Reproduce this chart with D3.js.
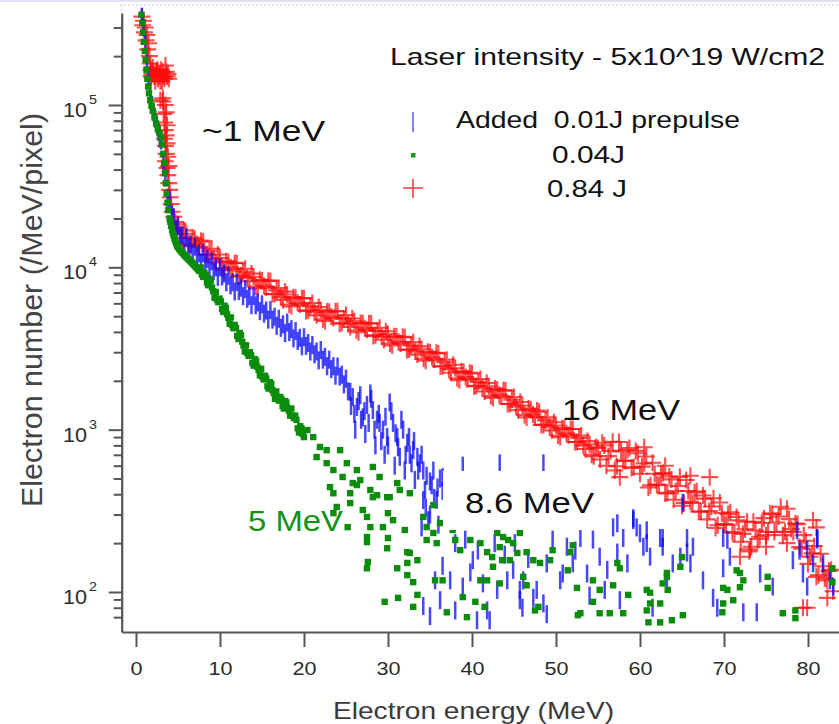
<!DOCTYPE html>
<html>
<head>
<meta charset="utf-8">
<script src="https://cdn.jsdelivr.net/npm/d3@7"></script>
<style>
  html, body { margin: 0; padding: 0; background: #fff; }
  svg { display: block; }
  text { font-family: "Liberation Sans", Arial, Helvetica, sans-serif; }
</style>
</head>
<body>
<svg id="chart" width="839" height="724"></svg>
<script>
// ---- axis ticks and labels ----
const xTicks = [0, 10, 20, 30, 40, 50, 60, 70, 80];
const yMajor = [100, 1000, 10000, 100000];
const yExponents = ["2", "3", "4", "5"];
const xTitle = "Electron energy (MeV)";
const yTitle = "Electron number (/MeV/pixel)";
const legendTitle = "Laser intensity - 5x10^19 W/cm2";
const seriesNames = ["Added  0.01J prepulse", "0.04J", "0.84 J"];
const energyNotes = ["~1 MeV", "16 MeV", "8.6 MeV", "5 MeV"];

// ---- spectra: [energy (MeV), electrons per MeV per pixel] ----
// 0.84 J
const red = [
  [0.7,350000],[0.8,310000],[0.9,330000],[1.0,280000],[1.1,300000],[1.2,250000],[1.3,270000],[1.4,220000],
  [1.5,240000],[1.6,200000],[1.7,180000],[1.8,165000],[1.9,155000],[2.0,170000],[2.2,150000],[2.4,160000],
  [2.6,145000],[2.8,155000],[3.0,165000],[3.1,140000],[3.3,150000],[3.5,175000],[3.7,150000],[2.9,107000],
  [1.8,150000],[2.1,160000],[2.3,140000],[2.5,165000],[2.7,150000],[2.9,140000],[3.2,160000],[3.4,145000],
  [3.6,160000],[3.8,155000],[3.9,145000],[3.2,105000],
  [3.2,110000],[3.5,100000],[3.3,88000],[3.4,78000],[3.5,70000],[3.4,62000],[3.5,56000],[3.6,50000],
  [3.6,90000],[3.7,75000],[3.6,65000],[3.7,58000],[3.8,48000],[3.9,42000],
  [3.5,45000],[3.7,41000],[3.8,37000],[3.9,33000],[4.0,30000],[4.1,27000],[4.2,24500],[4.3,22000],
  [4.5,20500],[4.7,19000],[4.8,17500],
  [5.0,18400],[5.5,15200],[6.0,16100],[6.5,13500],[7.0,15000],[7.5,13400],[8.0,14400],[8.5,12000],
  [9.0,13000],[9.5,10700],[10.0,11400],[10.5,9600],[11.0,10800],[11.5,9750],[12.0,10600],[12.5,8900],
  [13.0,9800],[13.5,8200],[14.0,8750],[14.5,7400],[15.0,8300],[15.5,7550],[16.0,8250],[16.5,6850],
  [17.0,7450],[17.5,6300],[18.0,6800],[18.5,5750],[19.0,6500],[19.5,5900],[20.0,6450],[20.5,5430],
  [21.0,6030],[21.5,5060],[22.0,5460],[22.5,4670],[23.0,5330],[23.5,4870],[24.0,5360],[24.5,4540],
  [25.0,5080],[25.5,4290],[26.0,4670],[26.5,3980],[27.0,4530],[27.5,4120],[28.0,4510],[28.5,3810],
  [29.0,4240],[29.5,3580],[30.0,3880],[30.5,3300],[31.0,3750],[31.5,3400],[32.0,3710],[32.5,3120],
  [33.0,3460],[33.5,2900],[34.0,3130],[34.5,2660],[35.0,3000],[35.5,2710],[36.0,2950],[36.5,2460],
  [37.0,2700],[37.5,2240],[38.0,2390],[38.5,2020],[39.0,2270],[39.5,2050],[40.0,2220],[40.5,1860],
  [41.0,2050],[41.5,1720],[42.0,1850],[42.5,1570],[43.0,1770],[43.5,1600],[44.0,1740],[44.5,1440],
  [45.0,1590],[45.5,1320],[46.0,1410],[46.5,1190],[47.0,1330],[47.5,1200],[48.0,1290],[48.5,1070],
  [49.0,1190],[49.5,990],[50.0,1060],[50.5,900],[51.0,1020],[51.5,925],[52.0,1010],[52.5,840],
  [53.0,920],[53.5,760],[54.0,810],[54.5,685],[55.0,770],
  [5.25,16000],[5.75,16900],[6.25,13900],[6.75,15200],[7.25,13900],[7.75,14600],[8.25,11950],[8.75,12550],
  [9.25,11300],[9.75,12000],[10.25,9900],[10.75,10900],[11.25,10000],[11.75,10650],[12.25,8800],[12.75,9400],
  [13.25,8600],[13.75,9150],[14.25,7600],[14.75,8370],[15.25,7700],[15.75,8280],[16.25,6840],[16.75,7200],
  [17.25,6550],[17.75,7080],[18.25,5900],[18.75,6550],[19.25,6040],[19.75,6460],[20.25,5380],[20.75,5760],
  [21.25,5290],[21.75,5690],[22.25,4780],[22.75,5350],[23.25,4980],[23.75,5360],[24.25,4490],[24.75,4830],
  [25.25,4470],[25.75,4840],[26.25,4080],[26.75,4540],[27.25,4220],[27.75,4520],[28.25,3780],[28.75,4050],
  [29.25,3730],[29.75,4040],[30.25,3390],[30.75,3760],[31.25,3480],[31.75,3730],[32.25,3100],[32.75,3300],
  [33.25,3030],[33.75,3260],[34.25,2730],[34.75,3020],[35.25,2790],[35.75,2980],[36.25,2450],[36.75,2600],
  [37.25,2360],[37.75,2510],[38.25,2070],[38.75,2290],[39.25,2110],[39.75,2240],[40.25,1850],[40.75,1970],
  [41.25,1800],[41.75,1940],[42.25,1610],[42.75,1790],[43.25,1640],[43.75,1750],[44.25,1440],[44.75,1530],
  [45.25,1390],[45.75,1480],[46.25,1230],[46.75,1350],[47.25,1240],[47.75,1310],[48.25,1070],[48.75,1140],
  [49.25,1040],[49.75,1110],[50.25,920],[50.75,1020],[51.25,950],[51.75,1010],[52.25,840],[52.75,890],
  [53.25,800],[53.75,850],[54.25,700],[54.75,780],
  [55.5,830],[56.0,600],[56.5,740],[57.0,560],[57.5,840],[58.0,645],[58.5,750],[59.0,580],
  [59.5,740],[60.0,535],[60.5,620],[61.0,440],[61.5,625],[62.0,460],[62.5,530],[63.0,405],
  [63.5,515],[64.0,370],[64.5,450],[65.0,340],[65.5,490],[66.0,360],[66.5,410],[67.0,312],
  [67.5,393],[68.0,280],[68.5,336],[69.0,248],[69.5,356],[70.0,262],[70.5,302],[71.0,233],
  [71.5,290],[72.0,204],[72.5,243],[73.0,178],[73.5,271],[74.0,212],[74.5,266],[75.0,224],
  [75.5,305],[76.0,234],[76.5,292],[77.0,224],[77.5,326],[78.0,244],[78.5,264],[79.0,189],
  [79.5,224],[80.0,149],[80.5,173],[81.0,124],[81.5,172],[82.0,121],[82.5,135],[83.0,101],
  [55.25,655],[55.75,800],[56.25,687],[56.75,843],[57.25,595],[57.75,735],[58.25,642],[58.75,770],
  [59.25,587],[59.75,715],[60.25,592],[60.75,683],[61.25,454],[61.75,535],[62.25,456],[62.75,540],
  [63.25,408],[63.75,494],[64.25,419],[64.75,512],[65.25,354],[65.75,419],[66.25,354],[66.75,417],
  [67.25,313],[67.75,376],[68.25,315],[68.75,378],[69.25,258],[69.75,306],[70.25,260],[70.75,310],
  [71.25,232],[71.75,276],[72.25,228],[72.75,271],[73.25,190],[73.75,239],[74.25,219],[74.75,285],
  [75.25,234],[75.75,302],[76.25,268],[76.75,335],[77.25,235],[77.75,281],[78.25,234],[78.75,262],
  [79.25,185],[79.75,207],[80.25,165],[80.75,192],[81.25,127],[81.75,144],[82.25,118],[82.75,137],
  [57.6,510],[68.3,510],[80.6,277],[79.9,80],[82.3,92],[79.4,80],[71.9,165],[73.1,183],
  [60.5,780],[66.0,520],[63.0,600],[77.5,200],[81.0,250],[75.0,190]
];

// added 0.01 J prepulse
const blue = [
  [0.7,350000],[0.9,300000],[1.1,240000],[1.3,190000],[1.5,150000],[1.7,120000],[1.9,100000],[2.1,90000],
  [2.3,82000],[2.5,75000],[2.7,68000],[2.85,62000],
  [3.0,60400],[3.25,42800],[3.5,35700],[3.75,26700],[4.0,26100],[4.25,21100],[4.5,20300],[4.75,17100],
  [5.0,18000],[5.25,15500],[5.5,15800],[5.75,13600],[6.0,15300],[6.25,13300],[6.5,13900],[6.75,12150],
  [7.0,13400],[7.25,11700],[7.5,12200],[7.75,10700],[8.0,12200],[8.25,10700],[8.5,11250],[8.75,9900],
  [9.0,10900],[9.25,9450],[9.5,10000],[9.75,8740],[10.0,10000],[10.25,8780],[10.5,9180],[10.75,8080],
  [11.0,8870],[11.25,7740],[11.5,8080],[11.75,7100],[12.0,8130],[12.25,7140],[12.5,7490],[12.75,6640],
  [13.0,7340],[13.25,6390],[13.5,6660],[13.75,5840],[14.0,6660],[14.25,5830],[14.5,6080],[14.75,5370],
  [15.0,5910],[15.25,5180],[15.5,5420],[15.75,4760],[16.0,5450],[16.25,4760],[16.5,4960],[16.75,4360],
  [17.0,4820],[17.25,4240],[17.5,4460],[17.75,3930],[18.0,4570],[18.25,3990],[18.5,4160],[18.75,3650],
  [19.0,4050],[19.25,3520],[19.5,3680],[19.75,3260],[20.0,3710],[20.25,3280],[20.5,3420],[20.75,3030],
  [21.0,3320],[21.25,2910],[21.5,3030],[21.75,2670],[22.0,3090],[22.25,2700],[22.5,2810],[22.75,2460],
  [23.0,2700],[23.25,2360],[23.5,2460],[23.75,2150],[24.0,2450],[24.25,2120],[24.5,2180],[24.75,1900],
  [25.0,2060],[25.25,1720],[25.5,1710],
  [25.8,1590],[26.3,1380],[26.7,1630],[27.0,1190],[27.5,1420],[27.9,1670],[28.2,1320],[28.7,1150],
  [29.0,1100],[29.4,1000],[29.9,900],[30.2,1470],[30.6,1100],[31.1,900],[31.4,680],[31.8,1000],
  [32.3,830],[32.6,700],[33.0,750],[33.5,680],[33.8,620],[34.2,560],[26.1,1000],[27.3,940],
  [28.5,800],[29.6,700],[30.8,600],[32.0,560],[33.2,490],[34.4,425],[35.8,370],
  [25.6,1400],[26.0,1250],[26.5,1500],[26.8,1150],[27.2,1300],[27.7,1100],[28.0,1550],[28.4,1000],
  [28.9,1250],[29.2,850],[29.7,1200],[30.0,800],[30.4,1300],[30.9,950],[31.2,780],[31.6,1150],
  [32.1,700],[32.5,900],[32.8,620],[33.1,850],[33.6,560],[34.0,700],[34.6,520],[35.0,480],
  [35.4,560],[35.9,440],[36.2,500],[34.5,330],[35.0,300],[35.5,380],[36.0,260],[34.0,250],
  [34.2,368],[34.8,277],[35.2,455],[35.6,118],[36.5,420],[36.5,145],[36.5,510],[37.4,118],
  [38.9,600],[43.3,620],[48.5,620],
  [38.9,108],[39.8,132],[40.1,157],[41.3,113],[41.8,77],[42.1,67],[43.0,103],[44.2,118],
  [44.9,137],[45.7,103],[46.1,118],[47.3,92],[47.7,103],[48.5,85],[48.9,150],[50.5,118],
  [50.8,130],[51.3,190],[52.0,150],[52.9,215],[53.7,130],[54.4,210],[55.2,165],[56.1,137],
  [56.8,250],[57.3,175],[58.0,215],[58.5,150],[59.2,277],[59.6,250],[60.0,230],[60.4,190],
  [60.8,240],[61.2,165],[61.5,80],[62.4,215],[62.7,190],[63.2,118],[63.9,150],[64.8,165],
  [65.6,175],[66.0,150],[66.3,190],[67.5,118],[68.7,92],[69.2,80],[69.9,140],[70.4,210],
  [70.7,165],[72.3,75],[73.9,75],[74.3,130],[75.8,108],[78.2,157],[79.0,180],[79.4,130],
  [79.9,108],[80.6,150],[81.1,210],[81.8,150],[82.6,118],[83.0,108],
  [57.3,265],[59.2,285],[60.8,200],[62.7,215],[65.1,355],[65.6,215],[69.9,215],[78.7,240],
  [81.1,215],[79.9,183],
  [34.2,82],[35.0,71],[36.2,89],[38.0,77],[40.6,67],[46.0,80],[48.9,73],[45.7,89],
  [38.0,200],[39.2,210],[40.7,180],[42.7,200],[43.9,170],[45.1,200],[46.7,160],[49.6,210],
  [52.3,180],[54.0,95],[55.8,103],[57.6,89]
];

// 0.04 J
const green = [
  [0.65,360000],[0.75,320000],[0.85,280000],[0.95,245000],[1.05,215000],[1.15,190000],[1.25,165000],
  [1.35,145000],[1.45,130000],[1.55,118000],[1.7,107000],[1.85,99000],[2.0,92000],[2.2,84000],
  [2.4,77000],[2.6,71000],[2.8,67000],[3.0,63000],[3.15,57000],[3.25,50000],[3.35,44000],[3.45,38000],
  [3.55,33000],[3.65,28500],[3.75,25000],[3.85,22500],[4.0,20000],[4.2,18000],[4.4,16200],[4.6,15000],
  [4.8,14000],[5.0,13300],[5.3,12700],[5.6,12200],[5.9,11700],[6.2,11300],[6.5,10900],[6.8,10500],
  [7.1,10100],[7.4,9700],
  [4.1,19000],[4.3,17000],[4.5,15600],[4.7,14500],[4.9,13600],[5.15,13000],[5.45,12400],[5.75,11900],
  [6.05,11500],[6.35,11100],[6.65,10700],[6.95,10300],[7.25,9900],[7.55,9500],
  [7.7,9980],[8.0,8740],[8.3,8960],[8.6,7760],[8.9,8270],[9.2,7110],[9.5,7040],[9.8,6100],
  [10.1,6180],[10.4,5310],[10.7,5620],[11.0,4880],[11.3,4910],[11.6,4220],[11.9,4230],[12.2,3620],
  [12.5,3820],[12.8,3300],[13.1,3310],[13.4,2850],[13.7,2880],[14.0,2480],[14.3,2650],[14.6,2330],
  [14.9,2370],[15.2,2040],[15.5,2070],[15.8,1790],[16.1,1910],[16.4,1680],[16.7,1720],[17.0,1510],
  [17.3,1550],[17.6,1350],[17.9,1470],[18.2,1310],[18.5,1350],[18.8,1180],[19.1,1150],[19.4,960],
  [19.7,1020],[20.0,900],
  [7.85,9020],[8.15,9260],[8.45,8060],[8.75,8500],[9.05,7520],[9.35,6480],[9.65,6320],[9.95,6420],
  [10.25,5530],[10.55,5800],[10.85,5140],[11.15,4490],[11.45,4400],[11.75,4420],[12.05,3780],[12.35,3940],
  [12.65,3480],[12.95,3030],[13.25,2970],[13.55,3000],[13.85,2580],[14.15,2720],[14.45,2440],[14.75,2160],
  [15.05,2120],[15.35,2150],[15.65,1850],[15.95,1960],[16.25,1750],[16.55,1550],[16.85,1550],[17.15,1590],
  [17.45,1400],[17.75,1500],[18.05,1360],[18.35,1220],[18.65,1220],[18.95,1220],[19.25,1020],[19.55,1050],
  [19.85,940],
  [20.4,995],[21.1,900],[21.9,782],[22.7,748],[21.5,678],[22.7,622],[24.3,748],[23.5,564],
  [25.1,622],[24.6,511],[26.3,564],[25.8,469],[26.7,489],[28.2,589],[29.0,511],[27.9,425],
  [31.1,469],[31.4,425],[32.6,406],[30.2,384],[28.2,384],[23.1,443],[23.5,406],[23.9,334],
  [23.5,306],[25.5,406],[25.5,353],[26.3,456],[27.0,320],[27.5,290],[27.9,251],[28.7,395],
  [27.5,218],[27.5,203],[29.9,384],[30.0,306],[30.6,277],[29.4,251],[30.0,215],[29.9,186],
  [32.0,241],[32.3,176],[32.6,174],[32.3,151],[27.6,153],[27.5,140],[31.1,140],[32.3,127],
  [33.5,157],[33.0,115],[33.5,96],[29.6,87],[31.2,92],[33.0,81],[25.2,251],
  [34.2,290],[34.6,251],[35.4,231],[34.6,209],[35.8,200],[36.2,266],[35.4,343],[37.7,241],
  [38.0,209],[38.6,181],[39.8,209],[41.0,200],[41.8,176],[42.4,164],[43.0,231],[43.3,189],
  [43.7,218],[44.3,209],[44.9,200],[45.7,231],[45.4,174],[44.5,157],[43.6,157],[42.5,143],
  [41.8,118],[43.3,113],[41.0,118],[38.9,93],[39.4,70],[37.0,75],[35.6,118],[36.5,118],
  [41.5,81],[40.4,87],[46.1,124],[46.5,110],[47.3,157],[48.1,151],[47.9,81],[47.5,77],
  [46.5,176],[49.3,157],[49.6,181],[52.0,194],[51.7,176],[51.4,136],[52.5,106],[52.9,74],
  [52.6,72],[54.4,118],[55.2,103],[54.4,87],[55.2,74],[56.4,74],[56.8,110],[57.6,140],
  [57.3,151],[58.0,74],[58.6,96],[60.8,103],[61.2,99],[61.2,85],[60.8,77],[61.0,65],
  [62.4,85],[62.4,65],[63.2,124],[63.2,131],[62.7,113],[63.3,103],[63.8,67],[65.1,72],
  [65.0,164],[64.8,143],[69.9,106],[70.4,103],[69.9,85],[69.8,75],[71.1,89],[71.5,136],
  [71.9,131],[72.3,118],[71.9,107],[75.2,124],[75.2,106],[77.0,74],[78.5,77],[78.5,69],
  [82.9,140],[82.9,115]
];

// ---- layout ----
const svg = d3.select("#chart");
const plot = { left: 121.7, right: 839, top: 13, bottom: 632 };

const x = d3.scaleLinear().domain([-1.7, 83.69]).range([plot.left, plot.right]);
const y = d3.scaleLog().domain([56.7, 368700]).range([plot.bottom, plot.top]);

const axisColor = "#555";
const textColor = "#2a2a2a";

// faint page edge at the top
svg.append("line").attr("x1", 0).attr("x2", 839).attr("y1", 1).attr("y2", 1)
  .attr("stroke", "#e2e2f2").attr("stroke-width", 2);
svg.append("line").attr("x1", 120).attr("x2", 839).attr("y1", 5).attr("y2", 5)
  .attr("stroke", "#c9c9dc").attr("stroke-width", 1).attr("stroke-dasharray", "2,2");
svg.append("line").attr("x1", plot.left).attr("x2", plot.left).attr("y1", 5).attr("y2", plot.top)
  .attr("stroke", "#c9c9dc").attr("stroke-width", 1).attr("stroke-dasharray", "2,2");

// ---- data marks ----
const marks = svg.append("g");

// 0.84 J : plus signs
marks.append("g")
  .attr("stroke", "#ff0a0a").attr("stroke-opacity", 0.72).attr("stroke-width", 2.1).attr("fill", "none")
  .selectAll("path").data(red).join("path")
  .attr("d", d => {
    const cx = x(d[0]), cy = y(d[1]), h = 8.5;
    return `M${cx - h},${cy}H${cx + h}M${cx},${cy - h}V${cy + h}`;
  });

// 0.01 J prepulse : vertical bars
marks.append("g")
  .attr("stroke", "#0808ff").attr("stroke-opacity", 0.74).attr("stroke-width", 2.5)
  .selectAll("line").data(blue).join("line")
  .attr("x1", d => x(d[0])).attr("x2", d => x(d[0]))
  .attr("y1", d => y(d[1]) - 9).attr("y2", d => y(d[1]) + 9);

// 0.04 J : small squares
marks.append("g")
  .attr("fill", "#0b8c0b")
  .selectAll("rect").data(green).join("rect")
  .attr("x", d => x(d[0]) - 3.2).attr("y", d => y(d[1]) - 3.2)
  .attr("width", 6.4).attr("height", 6.4);

// ---- axes ----
const xAxis = svg.append("g")
  .attr("transform", `translate(0,${plot.bottom})`)
  .call(d3.axisBottom(x).tickValues(xTicks).tickSize(15).tickSizeOuter(0).tickFormat(d3.format("d")));
xAxis.select(".domain").attr("stroke", axisColor).attr("stroke-width", 2.2);
xAxis.selectAll(".tick line").attr("stroke", axisColor).attr("stroke-width", 2);
xAxis.selectAll(".tick text")
  .attr("y", 43).attr("dy", null)
  .attr("fill", textColor).attr("font-size", 19)
  .attr("textLength", d => String(d).length * 12).attr("lengthAdjust", "spacingAndGlyphs")
  .attr("font-family", "'Liberation Sans', Arial, sans-serif");

const yMinor = [];
[10, 100, 1000, 10000, 100000].forEach(dec => {
  for (let k = 2; k <= 9; k++) {
    const v = dec * k;
    if (v >= 70 && v <= 300000) yMinor.push(v);
  }
});

const yAxisMinor = svg.append("g")
  .attr("transform", `translate(${plot.left},0)`)
  .call(d3.axisLeft(y).tickValues(yMinor).tickSize(8).tickSizeOuter(0).tickFormat(""));
yAxisMinor.select(".domain").remove();
yAxisMinor.selectAll(".tick line").attr("stroke", axisColor).attr("stroke-width", 2);

const yAxis = svg.append("g")
  .attr("transform", `translate(${plot.left},0)`)
  .call(d3.axisLeft(y).tickValues(yMajor).tickSize(13).tickSizeOuter(0).tickFormat(""));
yAxis.select(".domain").attr("stroke", axisColor).attr("stroke-width", 2.2);
yAxis.selectAll(".tick line").attr("stroke", axisColor).attr("stroke-width", 2);

// decade labels 10^n
const yLabels = svg.append("g").attr("fill", textColor);
yMajor.forEach((v, i) => {
  const ty = y(v);
  yLabels.append("text")
    .attr("x", 87).attr("y", ty + 12).attr("text-anchor", "end")
    .attr("font-size", 20).attr("textLength", 24).attr("lengthAdjust", "spacingAndGlyphs")
    .text("10");
  yLabels.append("text")
    .attr("x", 89).attr("y", ty - 1)
    .attr("font-size", 13).attr("textLength", 8).attr("lengthAdjust", "spacingAndGlyphs")
    .text(yExponents[i]);
});

// axis titles
svg.append("text")
  .attr("x", 333).attr("y", 719)
  .attr("font-size", 24).attr("fill", "#3a3a3a")
  .attr("textLength", 281).attr("lengthAdjust", "spacingAndGlyphs")
  .text(xTitle);

svg.append("text")
  .attr("transform", "translate(42,310) rotate(-90)")
  .attr("text-anchor", "middle")
  .attr("font-size", 29).attr("fill", "#444")
  .attr("textLength", 394).attr("lengthAdjust", "spacingAndGlyphs")
  .text(yTitle);

// ---- legend ----
const legend = svg.append("g").attr("fill", "#111");
legend.append("text").attr("x", 390).attr("y", 65).attr("font-size", 24)
  .attr("textLength", 435).attr("lengthAdjust", "spacingAndGlyphs").text(legendTitle);
legend.append("text").attr("x", 456).attr("y", 128).attr("font-size", 24)
  .attr("textLength", 284).attr("lengthAdjust", "spacingAndGlyphs")
  .attr("xml:space", "preserve").style("white-space", "pre").text(seriesNames[0]);
legend.append("text").attr("x", 552).attr("y", 163).attr("font-size", 24)
  .attr("textLength", 73).attr("lengthAdjust", "spacingAndGlyphs").text(seriesNames[1]);
legend.append("text").attr("x", 547).attr("y", 197).attr("font-size", 24)
  .attr("textLength", 80).attr("lengthAdjust", "spacingAndGlyphs").text(seriesNames[2]);

legend.append("line").attr("x1", 413).attr("x2", 413).attr("y1", 112).attr("y2", 132)
  .attr("stroke", "#7f7fff").attr("stroke-width", 2);
legend.append("rect").attr("x", 411).attr("y", 153).attr("width", 4.5).attr("height", 4.5)
  .attr("fill", "#1a9a1a");
legend.append("path").attr("d", "M403,188H423M413,179V198")
  .attr("stroke", "#ff3b3b").attr("stroke-width", 1.6).attr("fill", "none");

// ---- energy annotations ----
const noteFont = "'DejaVu Sans', Verdana, sans-serif";
svg.append("text").attr("x", 202).attr("y", 141).attr("font-family", noteFont)
  .attr("font-size", 29).attr("fill", "#111")
  .attr("textLength", 123).attr("lengthAdjust", "spacingAndGlyphs").text(energyNotes[0]);
svg.append("text").attr("x", 562).attr("y", 420).attr("font-family", noteFont)
  .attr("font-size", 30).attr("fill", "#111")
  .attr("textLength", 118).attr("lengthAdjust", "spacingAndGlyphs").text(energyNotes[1]);

svg.append("rect").attr("x", 443).attr("y", 471).attr("width", 160).attr("height", 59)
  .attr("fill", "#fff");
svg.append("text").attr("x", 465).attr("y", 513).attr("font-family", noteFont)
  .attr("font-size", 30).attr("fill", "#111")
  .attr("textLength", 129).attr("lengthAdjust", "spacingAndGlyphs").text(energyNotes[2]);
svg.append("text").attr("x", 248).attr("y", 531).attr("font-family", noteFont)
  .attr("font-size", 30).attr("fill", "#149214")
  .attr("textLength", 95).attr("lengthAdjust", "spacingAndGlyphs").text(energyNotes[3]);
</script>
</body>
</html>
